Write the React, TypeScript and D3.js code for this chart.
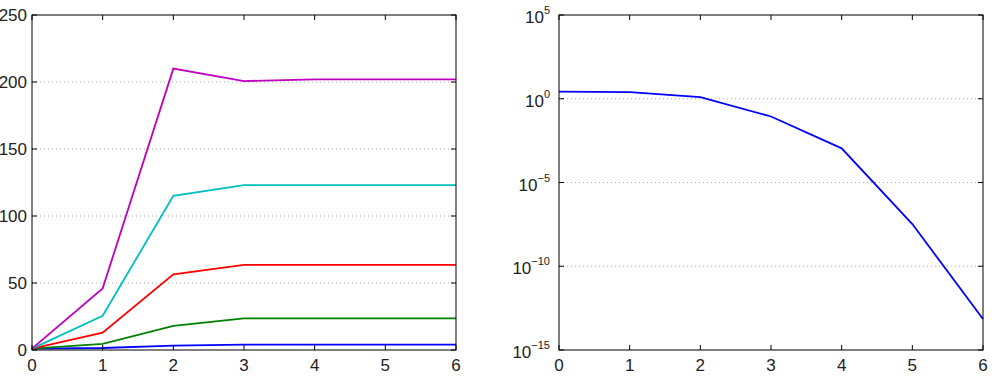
import React from "react";
import * as d3 from "d3";

const W = 994;
const H = 381;

// left panel: growth of each series per iteration
const iterations = [0, 1, 2, 3, 4, 5, 6];
const seriesNames = ["blue", "green", "red", "cyan", "magenta"];
const seriesColors = ["#0000ff", "#008000", "#ff0000", "#00bfbf", "#bf00bf"];
const blueVals = [1, 1.5, 3.2, 4, 4, 4, 4];
const greenVals = [1, 4.5, 18, 23.6, 23.6, 23.6, 23.6];
const redVals = [1, 13, 56.5, 63.5, 63.5, 63.5, 63.5];
const cyanVals = [1, 25.6, 115, 123, 123, 123, 123];
const magentaVals = [1, 46, 210, 200.7, 202, 202, 202];
const leftSeries = [blueVals, greenVals, redVals, cyanVals, magentaVals];
const leftYTicks = [0, 50, 100, 150, 200, 250];

// right panel: error on log scale (exponents)
const errExponents = [0.43, 0.4, 0.1, -1.06, -2.96, -7.48, -13.15];
const rightYExps = [5, 0, -5, -10, -15];

const xTicks = [0, 1, 2, 3, 4, 5, 6];

const FONT = "'Liberation Sans', Arial, Helvetica, sans-serif";
const FS = 17;
const TICK = 5;

function LeftPanel() {
  const x = d3.scaleLinear().domain([0, 6]).range([32, 456]);
  const y = d3.scaleLinear().domain([0, 250]).range([350, 15]);
  const line = d3.line<number>().x((_, i) => x(iterations[i])).y((d) => y(d));
  const [l, r] = x.range();
  const [b, t] = y.range();
  return (
    <g>
      {leftYTicks.filter((v) => v > 0 && v < 250).map((v) => (
        <line key={"g" + v} x1={l} x2={r} y1={y(v)} y2={y(v)} stroke="#aaa" strokeWidth={1} strokeDasharray="1,3" />
      ))}
      {leftSeries.map((s, i) => (
        <path key={seriesNames[i]} d={line(s) || ""} fill="none" stroke={seriesColors[i]} strokeWidth={1.8} />
      ))}
      <rect x={l} y={t} width={r - l} height={b - t} fill="none" stroke="#000" strokeWidth={1} />
      {xTicks.map((v) => (
        <g key={"x" + v}>
          <line x1={x(v)} x2={x(v)} y1={b} y2={b - TICK} stroke="#000" />
          <line x1={x(v)} x2={x(v)} y1={t} y2={t + TICK} stroke="#000" />
          <text x={x(v)} y={371} textAnchor="middle" fontSize={FS} fontFamily={FONT} fill="#222">{v}</text>
        </g>
      ))}
      {leftYTicks.map((v) => (
        <g key={"y" + v}>
          <line x1={l} x2={l + TICK} y1={y(v)} y2={y(v)} stroke="#000" />
          <line x1={r} x2={r - TICK} y1={y(v)} y2={y(v)} stroke="#000" />
          <text x={l - 5} y={y(v)} dy="0.36em" textAnchor="end" fontSize={FS} fontFamily={FONT} fill="#222">{v}</text>
        </g>
      ))}
    </g>
  );
}

function RightPanel() {
  const x = d3.scaleLinear().domain([0, 6]).range([559, 983]);
  const y = d3.scaleLog().domain([1e-15, 1e5]).range([350, 15]);
  const line = d3.line<number>().x((_, i) => x(iterations[i])).y((d) => y(Math.pow(10, d)));
  const [l, r] = x.range();
  const [b, t] = y.range();
  return (
    <g>
      {rightYExps.filter((e) => e > -15 && e < 5).map((e) => (
        <line key={"g" + e} x1={l} x2={r} y1={y(Math.pow(10, e))} y2={y(Math.pow(10, e))} stroke="#aaa" strokeWidth={1} strokeDasharray="1,3" />
      ))}
      <path d={line(errExponents) || ""} fill="none" stroke="#0000ff" strokeWidth={1.8} />
      <rect x={l} y={t} width={r - l} height={b - t} fill="none" stroke="#000" strokeWidth={1} />
      {xTicks.map((v) => (
        <g key={"x" + v}>
          <line x1={x(v)} x2={x(v)} y1={b} y2={b - TICK} stroke="#000" />
          <line x1={x(v)} x2={x(v)} y1={t} y2={t + TICK} stroke="#000" />
          <text x={x(v)} y={371} textAnchor="middle" fontSize={FS} fontFamily={FONT} fill="#222">{v}</text>
        </g>
      ))}
      {rightYExps.map((e) => {
        const yy = y(Math.pow(10, e));
        const exp = e < 0 ? "\u2212" + Math.abs(e) : String(e);
        return (
          <g key={"y" + e}>
            <line x1={l} x2={l + TICK} y1={yy} y2={yy} stroke="#000" />
            <line x1={r} x2={r - TICK} y1={yy} y2={yy} stroke="#000" />
            <text x={l - 9} y={yy + 8} textAnchor="end" fontFamily={FONT} fontSize={FS} fill="#222">
              10<tspan fontSize={11} dy={-9}>{exp}</tspan>
            </text>
          </g>
        );
      })}
    </g>
  );
}

export default function App() {
  return (
    <svg width={W} height={H} style={{ position: "absolute", left: 0, top: 0, background: "#fff" }}>
      <rect width={W} height={H} fill="#fff" />
      <LeftPanel />
      <RightPanel />
    </svg>
  );
}
